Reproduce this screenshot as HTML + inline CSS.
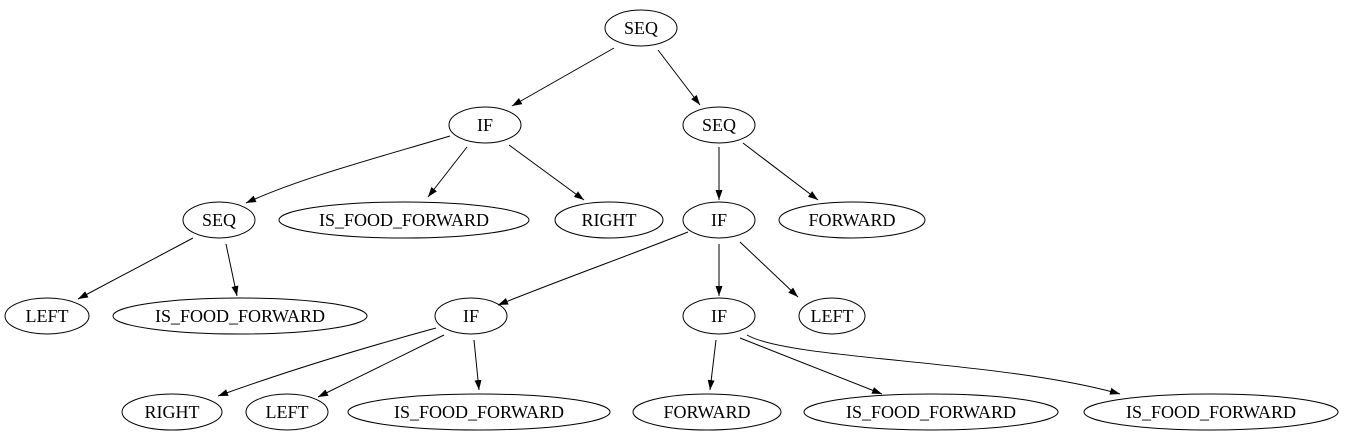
<!DOCTYPE html>
<html><head><style>html,body{margin:0;padding:0;background:#fff;}svg{display:block}</style></head>
<body>
<svg width="1345" height="443" viewBox="0 0 1345 443" xmlns="http://www.w3.org/2000/svg">
<defs>
<marker id="a" viewBox="0 0 10 10" refX="10" refY="5" markerWidth="10" markerHeight="10" markerUnits="userSpaceOnUse" orient="auto">
<path d="M0,1.5 L10,5 L0,8.5 z" fill="#000"/>
</marker>
</defs>
<g fill="none" stroke="#000" stroke-width="1">
<ellipse cx="641" cy="28" rx="36" ry="18"/>
<ellipse cx="485" cy="125" rx="36" ry="18"/>
<ellipse cx="719" cy="125" rx="36" ry="18"/>
<ellipse cx="219" cy="220" rx="36" ry="18"/>
<ellipse cx="404" cy="220" rx="125" ry="18"/>
<ellipse cx="609" cy="220" rx="54" ry="18"/>
<ellipse cx="719" cy="220" rx="36" ry="18"/>
<ellipse cx="852" cy="220" rx="73" ry="18"/>
<ellipse cx="47" cy="316" rx="42" ry="18"/>
<ellipse cx="240" cy="316" rx="127" ry="18"/>
<ellipse cx="471" cy="316" rx="36" ry="18"/>
<ellipse cx="719" cy="316" rx="36" ry="18"/>
<ellipse cx="832" cy="316" rx="33" ry="18"/>
<ellipse cx="172" cy="412" rx="50" ry="18"/>
<ellipse cx="287" cy="412" rx="41" ry="18"/>
<ellipse cx="479" cy="412" rx="131" ry="18"/>
<ellipse cx="707" cy="412" rx="74" ry="18"/>
<ellipse cx="931" cy="412" rx="127" ry="18"/>
<ellipse cx="1211" cy="412" rx="127" ry="18"/>
<g marker-end="url(#a)">
<path d="M614,48 L512,106"/>
<path d="M658,50 L700,105"/>
<path d="M450,136 C380,157 300,178 246,203"/>
<path d="M467,147 L428,197"/>
<path d="M509,145 L584,200"/>
<path d="M719,147 L719,200"/>
<path d="M743,143 L818,200"/>
<path d="M193,238 L78,299"/>
<path d="M226,244 L237,296"/>
<path d="M688,232 C630,255 560,280 498,305"/>
<path d="M719,244 L719,296"/>
<path d="M740,242 L798,297"/>
<path d="M436,328 C370,346 290,370 218,396"/>
<path d="M444,335 L318,397"/>
<path d="M474,340 L479,390"/>
<path d="M716,340 L710,390"/>
<path d="M740,338 L882,394"/>
<path d="M747,335 C790,360 1000,360 1120,394"/>
</g>
</g>
<g font-family="Liberation Serif, serif" font-size="18" text-anchor="middle" fill="#000">
<text x="641" y="34">SEQ</text>
<text x="485" y="131">IF</text>
<text x="719" y="131">SEQ</text>
<text x="219" y="226">SEQ</text>
<text x="404" y="226">IS_FOOD_FORWARD</text>
<text x="609" y="226">RIGHT</text>
<text x="719" y="226">IF</text>
<text x="852" y="226">FORWARD</text>
<text x="47" y="322">LEFT</text>
<text x="240" y="322">IS_FOOD_FORWARD</text>
<text x="471" y="322">IF</text>
<text x="719" y="322">IF</text>
<text x="832" y="322">LEFT</text>
<text x="172" y="418">RIGHT</text>
<text x="287" y="418">LEFT</text>
<text x="479" y="418">IS_FOOD_FORWARD</text>
<text x="707" y="418">FORWARD</text>
<text x="931" y="418">IS_FOOD_FORWARD</text>
<text x="1211" y="418">IS_FOOD_FORWARD</text>
</g>
</svg>
</body></html>
